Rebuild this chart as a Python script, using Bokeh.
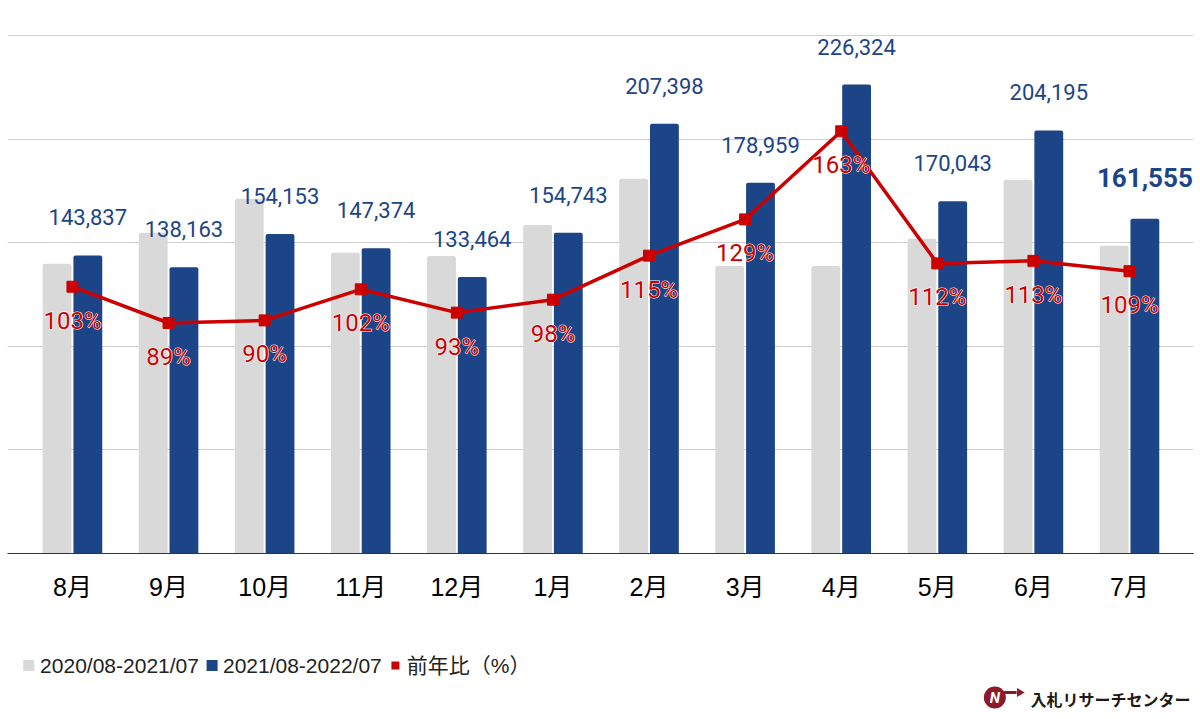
import numpy as np
from bokeh.plotting import figure
from bokeh.models import Range1d, FixedTicker, ColumnDataSource
from bokeh.layouts import column
from bokeh.core.properties import value
from bokeh.embed import file_html
from bokeh.resources import INLINE

# ---- data ----
months = ["8月", "9月", "10月", "11月", "12月", "1月", "2月", "3月", "4月", "5月", "6月", "7月"]
prev_year = [139800, 154750, 171200, 145100, 143600, 158600, 180900, 138800, 138800, 151850, 180400, 148500]
curr_year = [143837, 138163, 154153, 147374, 133464, 154743, 207398, 178959, 226324, 170043, 204195, 161555]
yoy_pct = [103, 89, 90, 102, 93, 98, 115, 129, 163, 112, 113, 109]
legend_labels = ["2020/08-2021/07", "2021/08-2022/07", "前年比（%）"]
y_ticks = [0, 50000, 100000, 150000, 200000, 250000]
logo_text = "入札リサーチセンター"

GRAY = "#d9d9d9"
BLUE = "#1c4587"
RED = "#cc0000"
LOGO = "#8b1a2b"

# frame is 520px tall; 250,000 sits 2px below its top so that gridline is visible
Y_END = 250000 * 520 / 518
P_END = 200 * 520 / 518

xs = np.arange(len(months))
src = ColumnDataSource(dict(
    x=xs, xg=xs - 0.16, xb=xs + 0.16,
    prev=prev_year, curr=curr_year, pct=yoy_pct,
    curr_lbl=[f"{v:,}" for v in curr_year],
    pct_lbl=[f"{v}%" for v in yoy_pct],
))
last = len(months) - 1
src_norm = ColumnDataSource({k: v[:last] for k, v in src.data.items()})
src_last = ColumnDataSource({k: v[last:] for k, v in src.data.items()})

p = figure(width=1200, height=633,
           x_range=Range1d(-0.676, 11.666), y_range=Range1d(0, Y_END),
           output_backend="svg", toolbar_location=None, y_axis_location=None,
           min_border_left=7, min_border_right=7, min_border_top=33, min_border_bottom=80)
p.outline_line_color = None
p.extra_y_ranges = {"pct": Range1d(0, P_END)}

p.xgrid.visible = False
p.ygrid.ticker = FixedTicker(ticks=y_ticks)
p.ygrid.grid_line_color = "#d0d0d0"
p.ygrid.grid_line_width = 1

p.xaxis.ticker = FixedTicker(ticks=list(xs))
p.xaxis.major_label_overrides = {int(i): m for i, m in zip(xs, months)}
p.xaxis.axis_line_color = "#333333"
p.xaxis.axis_line_width = 1
p.xaxis.major_tick_line_color = None
p.xaxis.minor_tick_line_color = None
p.xaxis.major_label_standoff = 13
p.xaxis.major_label_text_font = "'Liberation Sans', 'Noto Sans CJK JP', sans-serif"
p.xaxis.major_label_text_font_size = "25px"
p.xaxis.major_label_text_color = "#000000"

p.vbar(x="xg", top="prev", width=0.30, source=src, fill_color=GRAY, line_color=None,
       border_radius=(2, 2, 0, 0))
p.vbar(x="xb", top="curr", width=0.30, source=src, fill_color=BLUE, line_color=None,
       border_radius=(2, 2, 0, 0))

p.line(x="x", y="pct", source=src, y_range_name="pct", line_color=RED, line_width=3.5)
p.scatter(x="x", y="pct", source=src, y_range_name="pct", marker="square", size=11,
          fill_color=RED, line_color=RED)

p.text(x="xb", y="curr", text="curr_lbl", source=src_norm, y_offset=-38,
       text_align="center", text_baseline="middle", text_font=value("Roboto"),
       text_font_size="22px", text_color=BLUE)
p.text(x="xb", y="curr", text="curr_lbl", source=src_last, y_offset=-41,
       text_align="center", text_baseline="middle", text_font=value("Roboto"),
       text_font_size="26px", text_font_style="bold", text_color=BLUE)

# white halo, then red text on top
p.text(x="x", y="pct", text="pct_lbl", source=src, y_range_name="pct", y_offset=34,
       text_align="center", text_baseline="middle", text_font=value("Roboto"),
       text_font_size="24px", text_color="white", text_outline_color="white")
p.text(x="x", y="pct", text="pct_lbl", source=src, y_range_name="pct", y_offset=34,
       text_align="center", text_baseline="middle", text_font=value("Roboto"),
       text_font_size="24px", text_color=RED)

# ---- legend & logo strip ----
q = figure(width=1200, height=86, x_range=Range1d(0, 1200), y_range=Range1d(86, 0),
           output_backend="svg", toolbar_location=None,
           x_axis_location=None, y_axis_location=None, min_border=0)
q.outline_line_color = None
q.xgrid.visible = False
q.ygrid.visible = False

leg_x = [21.5, 207, 392.5]
leg_tx = [33, 218, 404]
leg_col = [GRAY, BLUE, RED]
leg_size = [11, 11, 8]
q.scatter(x=leg_x, y=[32, 32, 32], marker="square", size=leg_size,
          fill_color=leg_col, line_color=None)
q.text(x=leg_tx, y=[32, 32, 32], text=legend_labels, text_align="left", text_baseline="middle",
       text_font=value("'Liberation Sans', 'Noto Sans CJK JP', sans-serif"),
       text_font_size="21px", text_color="#222222")

# logo
q.scatter(x=[999], y=[64], marker="circle", size=22, fill_color=LOGO, line_color=None)
q.text(x=[999], y=[64], text=["N"], text_align="center", text_baseline="middle",
       text_font=value("Roboto"), text_font_size="15px", text_font_style="bold italic",
       text_color="white")
q.segment(x0=[1008], y0=[59], x1=[1021], y1=[59], line_color=LOGO, line_width=3)
q.scatter(x=[1024], y=[59], marker="triangle", angle=-np.pi / 2, size=9,
          fill_color=LOGO, line_color=None)
q.text(x=[1035], y=[65], text=[logo_text], text_align="left", text_baseline="middle",
       text_font=value("Noto Sans CJK JP"), text_font_size="16px", text_font_style="bold",
       text_color="#231815")

layout = column(p, q, spacing=0)
open("out.html", "w").write(file_html(layout, INLINE))
